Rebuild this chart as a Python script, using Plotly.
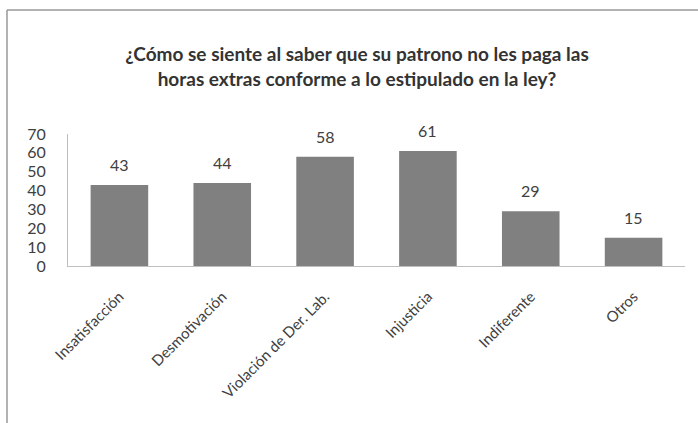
import plotly.graph_objects as go

categories = ["Insatisfacción", "Desmotivación", "Violación de Der. Lab.", "Injusticia", "Indiferente", "Otros"]
values = [43, 44, 58, 61, 29, 15]
y_ticks = [0, 10, 20, 30, 40, 50, 60, 70]
title_text = "¿Cómo se siente al saber que su patrono no les paga las<br>horas extras conforme a lo estipulado en la ley?"

W, H = 698, 423
ml, mr, mt, mb = 68, 13, 134, 157
pw = W - ml - mr
ph = H - mt - mb

fig = go.Figure(go.Bar(
    x=categories, y=values,
    marker=dict(color="#808080", line=dict(width=0)),
    width=0.56,
))

for c, v in zip(categories, values):
    fig.add_annotation(x=c, y=v, text=str(v), showarrow=False,
                       yanchor="bottom", yshift=9,
                       font=dict(size=16, color="#404040", family="Lato"))

fig.update_layout(
    width=W, height=H,
    margin=dict(l=ml, r=mr, t=mt, b=mb),
    paper_bgcolor="white", plot_bgcolor="white",
    font=dict(family="Lato", color="#404040"),
    showlegend=False,
    title=dict(text=title_text, x=(357 - ml) / pw, xanchor="center", xref="paper",
               y=1 - 61 / H, yanchor="middle", yref="container",
               font=dict(size=19, family="Lato", color="#333333", weight="bold")),
)

fig.update_yaxes(range=[0, 70], tickvals=y_ticks, showgrid=False, zeroline=False,
                 showline=True, linecolor="#bfbfbf", linewidth=1,
                 tickfont=dict(size=16, color="#404040"), ticklabelstandoff=18)
fig.update_xaxes(showgrid=False, showline=True, linecolor="#bfbfbf", linewidth=1,
                 tickangle=-45, tickfont=dict(size=15, color="#404040"),
                 ticklabelstandoff=15)

# outer frame (top and left edges visible)
fx = (7 - ml) / pw
fy = 1 + (mt - 10) / ph
fb = -(mb + 5) / ph
fr = 1 + (mr + 5) / pw
fig.add_shape(type="line", xref="paper", yref="paper", x0=fx, x1=fr, y0=fy, y1=fy,
              line=dict(color="#999999", width=1.5))
fig.add_shape(type="line", xref="paper", yref="paper", x0=fx, x1=fx, y0=fb, y1=fy,
              line=dict(color="#999999", width=1.5))

fig.write_html("out.html")
